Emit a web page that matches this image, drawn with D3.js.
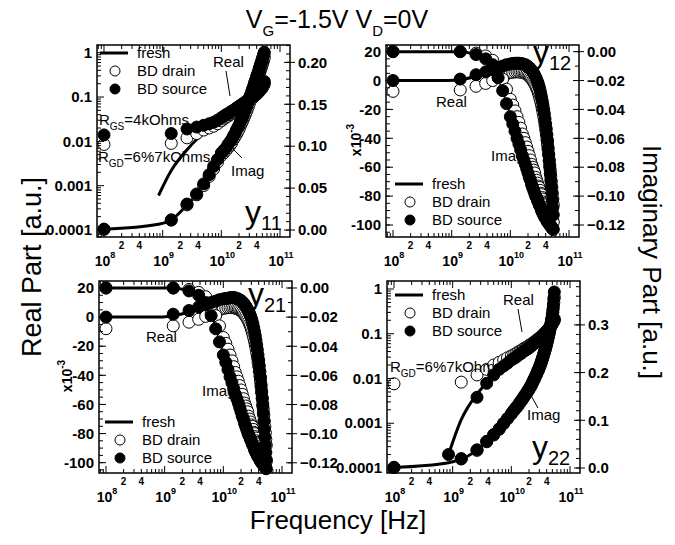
<!DOCTYPE html>
<html>
<head>
<meta charset="utf-8">
<script src="https://cdn.jsdelivr.net/npm/d3@7"></script>
<style>
  body { margin: 0; background: #fff; }
  svg { display: block; }
  text { font-family: "Liberation Sans", Arial, sans-serif; fill: #000; }
</style>
</head>
<body>
<svg id="vis" width="675" height="545"></svg>
<script>
// frequency points, GHz
const freqFresh = [0.1, 0.85, 1.4, 2.6, 3.8, 5.0, 6.2, 7.4, 8.6, 10, 12.2, 14.4, 16.6, 18.8, 21, 23.2, 25.4, 27.6, 29.8, 32, 34.2, 36.4, 38.6, 40.8, 43, 45.2, 47.4, 49.6, 51.8, 54];
const freqBD = [0.1, 0.85, 1.4, 2.6, 3.8, 5.0, 6.2, 7.4, 8.6,
    10, 11, 12, 13, 14, 15, 16, 17, 18, 19, 20, 21, 22, 23, 24, 25, 26, 27, 28, 29, 30, 31, 32,
    33, 34, 35, 36, 37, 38, 39, 40, 41, 42, 43, 44, 45, 46, 47, 48, 49, 50, 51, 52, 53, 54];

// y11
const y11RealFresh  = [null, 0.0006, 0.0022, 0.0065, 0.011, 0.015, 0.018, 0.021, 0.024, 0.028, 0.034, 0.040, 0.046, 0.052, 0.058, 0.064, 0.070, 0.076, 0.082, 0.089, 0.096, 0.103, 0.111, 0.119, 0.128, 0.138, 0.149, 0.161, 0.176, 0.195];
const y11ImagFresh  = [0.001, 0.007, 0.012, 0.030, 0.042, 0.054, 0.065, 0.075, 0.083, 0.091, 0.098, 0.105, 0.112, 0.120, 0.127, 0.134, 0.141, 0.147, 0.154, 0.160, 0.166, 0.171, 0.177, 0.182, 0.187, 0.192, 0.197, 0.201, 0.206, 0.210];
const y11RealDrain  = [0.0085, null, 0.0090, 0.012, 0.015, 0.018, 0.020, 0.022, 0.025,
    0.029, 0.032, 0.035, 0.037, 0.040, 0.043, 0.045, 0.048, 0.051, 0.054, 0.056, 0.059, 0.062, 0.065, 0.067, 0.070, 0.073, 0.076, 0.079, 0.082, 0.085, 0.088, 0.090,
    0.093, 0.096, 0.099, 0.103, 0.106, 0.109, 0.113, 0.116, 0.120, 0.124, 0.128, 0.132, 0.137, 0.142, 0.147, 0.152, 0.158, 0.164, 0.171, 0.179, 0.188, 0.198];
const y11RealSource = [0.014, null, 0.015, 0.019, 0.021, 0.023, 0.025, 0.027, 0.030,
    0.034, 0.037, 0.040, 0.042, 0.045, 0.048, 0.050, 0.053, 0.056, 0.059, 0.061, 0.064, 0.067, 0.070, 0.072, 0.075, 0.078, 0.081, 0.084, 0.087, 0.090, 0.093, 0.096,
    0.099, 0.102, 0.106, 0.110, 0.113, 0.117, 0.121, 0.125, 0.129, 0.134, 0.138, 0.143, 0.148, 0.154, 0.159, 0.165, 0.171, 0.179, 0.188, 0.198, 0.210, 0.225];
const y11ImagDrain  = [0.001, null, 0.012, 0.030, 0.042, 0.053, 0.064, 0.073, 0.081,
    0.089, 0.092, 0.095, 0.098, 0.101, 0.104, 0.108, 0.111, 0.114, 0.117, 0.120, 0.124, 0.127, 0.130, 0.133, 0.136, 0.139, 0.142, 0.145, 0.148, 0.151, 0.154, 0.156,
    0.159, 0.162, 0.164, 0.167, 0.170, 0.172, 0.174, 0.177, 0.179, 0.181, 0.183, 0.186, 0.188, 0.190, 0.192, 0.194, 0.196, 0.198, 0.200, 0.202, 0.204, 0.206];
const y11ImagSource = [0.001, null, 0.012, 0.031, 0.043, 0.055, 0.066, 0.076, 0.084,
    0.092, 0.095, 0.098, 0.102, 0.105, 0.108, 0.112, 0.115, 0.119, 0.122, 0.125, 0.129, 0.132, 0.135, 0.139, 0.142, 0.145, 0.148, 0.151, 0.154, 0.157, 0.160, 0.162,
    0.165, 0.168, 0.170, 0.173, 0.176, 0.178, 0.180, 0.183, 0.185, 0.187, 0.189, 0.192, 0.194, 0.196, 0.198, 0.200, 0.202, 0.204, 0.206, 0.208, 0.210, 0.212];

// y12 (real in 1e-3)
const y12RealFresh  = [0, 0, 0.5, 3, 5, 7, 8.5, 9.5, 10.5, 11, 11.5, 11.5, 11, 10, 8.5, 6.5, 4, 1, -2.5, -7, -12.5, -18.5, -25.5, -33.5, -41.5, -52, -62, -72, -82, -92];
const y12ImagFresh  = [0, 0, 0, -0.002, -0.004, -0.008, -0.016, -0.025, -0.034, -0.043, -0.054, -0.064, -0.072, -0.079, -0.085, -0.090, -0.095, -0.099, -0.102, -0.105, -0.108, -0.110, -0.112, -0.114, -0.116, -0.117, -0.118, -0.119, -0.120, -0.121];
const y12RealDrain  = [-7.5, null, -6.5, -4, -2, 0, 2, 3.5, 4.5,
    5.5, 5.8, 6, 6, 6, 5.8, 5.6, 5.3, 4.9, 4.3, 3.7, 3, 2.1, 1.2, 0, -1, -2.3, -3.6, -5.1, -6.7, -8.4, -10.4, -12.5,
    -14.7, -17, -19.5, -22, -24.8, -27.7, -30.7, -34, -37.3, -40.7, -44, -47.7, -51.3, -55, -58.5, -62.3, -66.2, -70, -74, -78, -82, -86];
const y12RealSource = [0, null, 1, 4, 6, 7.5, 9, 10, 11,
    11.5, 11.8, 12, 12, 12, 11.8, 11.6, 11.3, 10.9, 10.4, 9.7, 9, 8.1, 7.2, 6.1, 5, 3.7, 2.3, 0.9, -0.7, -2.4, -4.4, -6.5,
    -9, -11.5, -14.2, -17, -20, -23, -26.5, -30, -33.5, -37.5, -41.5, -46.5, -51, -55.5, -60, -64.5, -69, -73.5, -78, -83, -88, -93];
const y12ImagDrain  = [0, null, 0, -0.001, -0.003, -0.006, -0.012, -0.019, -0.026,
    -0.033, -0.037, -0.041, -0.045, -0.049, -0.053, -0.057, -0.060, -0.063, -0.066, -0.069, -0.072, -0.075, -0.078, -0.080, -0.082, -0.084, -0.087, -0.089, -0.091, -0.093, -0.094, -0.096,
    -0.098, -0.099, -0.101, -0.102, -0.104, -0.105, -0.106, -0.108, -0.109, -0.110, -0.111, -0.112, -0.113, -0.114, -0.115, -0.115, -0.116, -0.116, -0.117, -0.117, -0.118, -0.118];
const y12ImagSource = [0, null, 0, -0.002, -0.005, -0.009, -0.018, -0.027, -0.036,
    -0.045, -0.050, -0.055, -0.060, -0.064, -0.068, -0.072, -0.075, -0.078, -0.081, -0.084, -0.087, -0.089, -0.092, -0.094, -0.096, -0.098, -0.100, -0.101, -0.103, -0.104, -0.106, -0.107,
    -0.108, -0.110, -0.111, -0.112, -0.113, -0.114, -0.115, -0.115, -0.116, -0.117, -0.118, -0.118, -0.119, -0.119, -0.120, -0.120, -0.121, -0.121, -0.122, -0.122, -0.123, -0.123];

// y21 (real in 1e-3)
const y21RealFresh  = [0, 0, 1, 3.5, 6, 7.5, 9, 10, 11, 11.5, 12, 12.5, 12, 11, 9.5, 7.5, 5, 2, -1.5, -6, -11.5, -18, -25.5, -33.5, -42, -52.5, -63, -74, -85.5, -97];
const y21ImagFresh  = [0, 0, 0, -0.002, -0.004, -0.009, -0.017, -0.026, -0.035, -0.044, -0.055, -0.065, -0.073, -0.080, -0.086, -0.091, -0.096, -0.100, -0.103, -0.106, -0.109, -0.111, -0.113, -0.115, -0.117, -0.118, -0.119, -0.120, -0.121, -0.122];
const y21RealDrain  = [-8, null, -6, -3.5, -1.5, 0.5, 2.5, 4, 5,
    6, 6.3, 6.5, 6.5, 6.5, 6.4, 6.2, 5.8, 5.4, 4.9, 4.2, 3.5, 2.6, 1.7, 0.6, -0.5, -1.8, -3.2, -4.6, -6.2, -8, -10, -12,
    -14.2, -16.5, -19, -21.5, -24.5, -27.5, -30.7, -33.5, -37, -40.5, -44, -48, -52, -55.5, -59.5, -63.5, -67.5, -71.5, -75.5, -79.5, -84, -88];
const y21RealSource = [0, null, 2, 4.5, 7, 8.5, 10, 11, 12,
    12.5, 12.8, 13, 13.3, 13.5, 13.4, 13.2, 12.8, 12.4, 11.9, 11.3, 10.5, 9.6, 8.7, 7.6, 6.5, 5.2, 3.8, 2.4, 0.8, -0.9, -2.9, -5,
    -7.5, -10, -12.8, -15.8, -19, -22.4, -26, -29.5, -33.5, -37.5, -41.5, -46.5, -51, -56, -61, -66, -71.5, -77, -82.5, -88, -93, -98];
const y21ImagDrain  = [0, null, 0, -0.001, -0.003, -0.006, -0.012, -0.019, -0.026,
    -0.034, -0.038, -0.042, -0.046, -0.050, -0.054, -0.058, -0.061, -0.064, -0.067, -0.070, -0.073, -0.076, -0.079, -0.081, -0.083, -0.085, -0.088, -0.090, -0.092, -0.094, -0.095, -0.097,
    -0.099, -0.100, -0.102, -0.103, -0.105, -0.106, -0.107, -0.109, -0.110, -0.111, -0.112, -0.113, -0.114, -0.115, -0.116, -0.116, -0.117, -0.117, -0.118, -0.118, -0.119, -0.119];
const y21ImagSource = [0, null, 0, -0.002, -0.005, -0.010, -0.019, -0.028, -0.037,
    -0.046, -0.051, -0.056, -0.061, -0.065, -0.069, -0.073, -0.076, -0.079, -0.082, -0.085, -0.088, -0.090, -0.093, -0.095, -0.097, -0.099, -0.101, -0.102, -0.104, -0.105, -0.107, -0.108,
    -0.109, -0.111, -0.112, -0.113, -0.114, -0.115, -0.116, -0.116, -0.117, -0.118, -0.119, -0.119, -0.120, -0.120, -0.121, -0.121, -0.122, -0.122, -0.123, -0.123, -0.124, -0.124];

// y22
const y22RealFresh  = [null, 0.0002, 0.0012, 0.0045, 0.008, 0.012, 0.015, 0.018, 0.021, 0.024, 0.029, 0.034, 0.039, 0.044, 0.049, 0.055, 0.061, 0.067, 0.073, 0.080, 0.087, 0.095, 0.104, 0.114, 0.125, 0.137, 0.151, 0.166, 0.183, 0.202];
const y22ImagFresh  = [0.001, 0.011, 0.019, 0.037, 0.055, 0.069, 0.081, 0.093, 0.103, 0.113, 0.127, 0.139, 0.150, 0.160, 0.170, 0.180, 0.190, 0.200, 0.210, 0.220, 0.231, 0.242, 0.253, 0.265, 0.277, 0.289, 0.302, 0.316, 0.333, 0.355];
const y22RealDrain  = [0.0076, null, 0.0083, 0.012, 0.016, 0.020, 0.023, 0.026, 0.029,
    0.032, 0.034, 0.036, 0.039, 0.041, 0.043, 0.046, 0.048, 0.050, 0.052, 0.055, 0.057, 0.059, 0.062, 0.064, 0.067, 0.069, 0.072, 0.075, 0.078, 0.081, 0.083, 0.086,
    0.089, 0.092, 0.096, 0.099, 0.102, 0.106, 0.110, 0.114, 0.118, 0.122, 0.127, 0.132, 0.137, 0.142, 0.148, 0.154, 0.161, 0.168, 0.175, 0.183, 0.191, 0.200];
const y22RealSource = [null, 0.0002, null, 0.0038, 0.0078, 0.012, 0.016, 0.019, 0.022,
    0.026, 0.028, 0.030, 0.033, 0.035, 0.037, 0.040, 0.042, 0.044, 0.046, 0.048, 0.051, 0.054, 0.056, 0.059, 0.062, 0.065, 0.067, 0.070, 0.073, 0.076, 0.079, 0.083,
    0.086, 0.089, 0.093, 0.097, 0.100, 0.104, 0.109, 0.113, 0.118, 0.124, 0.128, 0.134, 0.139, 0.145, 0.151, 0.158, 0.165, 0.173, 0.182, 0.192, 0.203, 0.215];
const y22ImagDrain  = [0.001, null, 0.019, 0.037, 0.055, 0.069, 0.081, 0.093, 0.103,
    0.113, 0.120, 0.125, 0.130, 0.136, 0.141, 0.146, 0.151, 0.155, 0.160, 0.164, 0.169, 0.173, 0.178, 0.183, 0.187, 0.192, 0.196, 0.201, 0.205, 0.210, 0.214, 0.219,
    0.224, 0.229, 0.234, 0.239, 0.244, 0.249, 0.254, 0.259, 0.265, 0.270, 0.276, 0.281, 0.287, 0.293, 0.299, 0.305, 0.311, 0.318, 0.326, 0.336, 0.347, 0.358];
const y22ImagSource = [0.0015, null, 0.0195, 0.038, 0.056, 0.070, 0.082, 0.094, 0.104,
    0.114, 0.121, 0.127, 0.132, 0.138, 0.143, 0.148, 0.153, 0.157, 0.162, 0.166, 0.171, 0.175, 0.180, 0.185, 0.189, 0.194, 0.198, 0.203, 0.207, 0.212, 0.216, 0.221,
    0.226, 0.231, 0.236, 0.241, 0.246, 0.251, 0.256, 0.261, 0.267, 0.272, 0.278, 0.283, 0.289, 0.295, 0.301, 0.307, 0.314, 0.322, 0.331, 0.342, 0.355, 0.369];

const legendNames = ['fresh', 'BD drain', 'BD source'];
const logLabels = ['0.0001', '0.001', '0.01', '0.1', '1'];

const W = 193, H = 192;
const xDomain = [7.6e7, 1.48e11];
const svg = d3.select('#vis');

function series(freqs, vals) {
    return vals.map((v, i) => ({ f: freqs[i] * 1e9, v: v }));
}

function richText(sel, parts, size, subSize) {
    // parts: [text, isSub]
    let prevSub = false;
    parts.forEach(([t, sub]) => {
        let dy = 0;
        if (sub && !prevSub) dy = size * 0.3;
        if (!sub && prevSub) dy = -size * 0.3;
        sel.append('tspan').attr('dy', dy).attr('font-size', sub ? subSize : size).text(t);
        prevSub = sub;
    });
    return sel;
}

const panels = [
    { name: '11', x: 97, y: 45, leftLog: true, leftDomain: [6.95e-5, 1.493], rightDomain: [-0.0083, 0.2207],
      rightTicks: d3.range(0, 0.201, 0.05), rightMinor: d3.range(0, 0.221, 0.01), rightFmt: d3.format('.2f'),
      real: [y11RealFresh, y11RealDrain, y11RealSource], imag: [y11ImagFresh, y11ImagDrain, y11ImagSource],
      legend: [100, 53], label: [245, 223],
      notes: [
          { x: 213, y: 67, parts: [['Real', false]] },
          { x: 231, y: 176, parts: [['Imag', false]] },
          { x: 99, y: 125, parts: [['R', false], ['GS', true], ['=4kOhms', false]] },
          { x: 98, y: 162, parts: [['R', false], ['GD', true], ['=6%7kOhms', false]] }
      ],
      pointers: [[226, 71, 230, 96], [242, 158, 230, 146]] },
    { name: '12', x: 386, y: 45, leftLog: false, leftDomain: [-108.3, 24.6], rightDomain: [-0.1283, 0.0046],
      leftTicks: d3.range(-100, 21, 20), leftMinor: d3.range(-105, 21, 5),
      rightTicks: d3.range(-0.12, 0.001, 0.02), rightMinor: d3.range(-0.12, 0.001, 0.01), rightFmt: d3.format('.2f'),
      real: [y12RealFresh, y12RealDrain, y12RealSource], imag: [y12ImagFresh, y12ImagDrain, y12ImagSource],
      legend: [395, 184], label: [533, 63], scaleNote: [361, 140],
      notes: [
          { x: 436, y: 107, parts: [['Real', false]] },
          { x: 491, y: 161, parts: [['Imag', false]] }
      ],
      pointers: [] },
    { name: '21', x: 99, y: 281, leftLog: false, leftDomain: [-107.1, 24.8], rightDomain: [-0.127, 0.0048],
      leftTicks: d3.range(-100, 21, 20), leftMinor: d3.range(-105, 21, 5),
      rightTicks: d3.range(-0.12, 0.001, 0.02), rightMinor: d3.range(-0.12, 0.001, 0.01), rightFmt: d3.format('.2f'),
      real: [y21RealFresh, y21RealDrain, y21RealSource], imag: [y21ImagFresh, y21ImagDrain, y21ImagSource],
      legend: [105, 422], label: [248, 305], scaleNote: [72, 376],
      notes: [
          { x: 146, y: 342, parts: [['Real', false]] },
          { x: 202, y: 396, parts: [['Imag', false]] }
      ],
      pointers: [] },
    { name: '22', x: 387, y: 281, leftLog: true, leftDomain: [7.73e-5, 1.51], rightDomain: [-0.0105, 0.392],
      rightTicks: d3.range(0, 0.301, 0.1), rightMinor: d3.range(0, 0.391, 0.02), rightFmt: d3.format('.1f'),
      real: [y22RealFresh, y22RealDrain, y22RealSource], imag: [y22ImagFresh, y22ImagDrain, y22ImagSource],
      legend: [395, 295], label: [532, 458],
      notes: [
          { x: 503, y: 305, parts: [['Real', false]] },
          { x: 527, y: 420, parts: [['Imag', false]] },
          { x: 390, y: 372, parts: [['R', false], ['GD', true], ['=6%7kOhm', false]] }
      ],
      pointers: [[518, 309, 522, 332], [538, 408, 529, 392]] }
];

function drawPanel(p) {
    const g = svg.append('g').attr('transform', 'translate(' + p.x + ',' + p.y + ')');
    const x = d3.scaleLog().domain(xDomain).range([0, W]);
    const yL = (p.leftLog ? d3.scaleLog() : d3.scaleLinear()).domain(p.leftDomain).range([H, 0]);
    const yR = d3.scaleLinear().domain(p.rightDomain).range([H, 0]);

    // annotations under the data
    p.notes.forEach(n => {
        richText(svg.append('text').attr('x', n.x).attr('y', n.y), n.parts, 15, 10);
    });
    p.pointers.forEach(l => {
        svg.append('line').attr('x1', l[0]).attr('y1', l[1]).attr('x2', l[2]).attr('y2', l[3])
            .attr('stroke', '#000').attr('stroke-width', 1);
    });

    const sets = [
        { vals: p.real, y: yL },
        { vals: p.imag, y: yR }
    ];

    // fresh lines
    sets.forEach(s => {
        const line = d3.line()
            .defined(d => d.v != null)
            .x(d => x(d.f))
            .y(d => s.y(d.v))
            .curve(d3.curveMonotoneX);
        g.append('path')
            .datum(series(freqFresh, s.vals[0]))
            .attr('d', line)
            .attr('fill', 'none')
            .attr('stroke', '#000')
            .attr('stroke-width', 3);
    });

    // BD drain (open) then BD source (filled)
    [1, 2].forEach(k => {
        sets.forEach(s => {
            g.append('g').selectAll('circle')
                .data(series(freqBD, s.vals[k]).filter(d => d.v != null))
                .enter()
                .append('circle')
                .attr('cx', d => x(d.f))
                .attr('cy', d => s.y(d.v))
                .attr('r', 6)
                .attr('fill', k === 1 ? '#fff' : '#000')
                .attr('stroke', '#000')
                .attr('stroke-width', 1);
        });
    });

    // frame
    g.append('rect').attr('width', W).attr('height', H)
        .attr('fill', 'none').attr('stroke', '#000').attr('stroke-width', 1.5);

    // x ticks, bottom and top
    const xMajor = [1e8, 1e9, 1e10, 1e11];
    const xMinor = [];
    [1e7, 1e8, 1e9, 1e10, 1e11].forEach(dec => {
        for (let m = 2; m <= 9; m++) {
            const v = dec * m;
            if (v > xDomain[0] && v < xDomain[1]) xMinor.push(v);
        }
    });
    const tk = g.append('g').attr('stroke', '#000').attr('stroke-width', 1);
    xMajor.forEach(v => {
        tk.append('line').attr('x1', x(v)).attr('x2', x(v)).attr('y1', H).attr('y2', H - 7);
        tk.append('line').attr('x1', x(v)).attr('x2', x(v)).attr('y1', 0).attr('y2', 7);
    });
    xMinor.forEach(v => {
        tk.append('line').attr('x1', x(v)).attr('x2', x(v)).attr('y1', H).attr('y2', H - 4);
        tk.append('line').attr('x1', x(v)).attr('x2', x(v)).attr('y1', 0).attr('y2', 4);
    });
    xMajor.forEach(v => {
        const t = g.append('text').attr('x', x(v) + 1).attr('y', H + 29)
            .attr('text-anchor', 'middle').attr('font-weight', 'bold').attr('font-size', 14);
        t.append('tspan').text('10');
        t.append('tspan').attr('dy', -8).attr('font-size', 9).text(Math.round(Math.log10(v)));
    });
    [1e8, 1e9, 1e10].forEach(dec => {
        [2, 4].forEach(m => {
            g.append('text').attr('x', x(dec * m)).attr('y', H + 12)
                .attr('text-anchor', 'middle').attr('font-weight', 'bold').attr('font-size', 10)
                .text(m);
        });
    });

    // left axis
    if (p.leftLog) {
        const decs = [1e-4, 1e-3, 1e-2, 1e-1, 1];
        decs.forEach((v, i) => {
            tk.append('line').attr('x1', 0).attr('x2', 7).attr('y1', yL(v)).attr('y2', yL(v));
            g.append('text').attr('x', -5).attr('y', yL(v)).attr('dy', '0.35em')
                .attr('text-anchor', 'end').attr('font-weight', 'bold').attr('font-size', 15)
                .text(logLabels[i]);
        });
        [1e-5, 1e-4, 1e-3, 1e-2, 1e-1, 1].forEach(dec => {
            for (let m = 2; m <= 9; m++) {
                const v = dec * m;
                if (v > p.leftDomain[0] && v < p.leftDomain[1]) {
                    tk.append('line').attr('x1', 0).attr('x2', 4).attr('y1', yL(v)).attr('y2', yL(v));
                }
            }
        });
    } else {
        p.leftMinor.forEach(v => {
            tk.append('line').attr('x1', 0).attr('x2', 4).attr('y1', yL(v)).attr('y2', yL(v));
        });
        p.leftTicks.forEach(v => {
            tk.append('line').attr('x1', 0).attr('x2', 7).attr('y1', yL(v)).attr('y2', yL(v));
            g.append('text').attr('x', -5).attr('y', yL(v)).attr('dy', '0.35em')
                .attr('text-anchor', 'end').attr('font-weight', 'bold').attr('font-size', 15)
                .text(Math.round(v));
        });
    }

    // right axis
    p.rightMinor.forEach(v => {
        tk.append('line').attr('x1', W).attr('x2', W - 4).attr('y1', yR(v)).attr('y2', yR(v));
    });
    p.rightTicks.forEach(v => {
        tk.append('line').attr('x1', W - 6).attr('x2', W + 5).attr('y1', yR(v)).attr('y2', yR(v));
        g.append('text').attr('x', W + 8).attr('y', yR(v)).attr('dy', '0.35em')
            .attr('font-weight', 'bold').attr('font-size', 15)
            .text(p.rightFmt(Math.abs(v) < 1e-9 ? 0 : v));
    });

    // x10^-3 note
    if (p.scaleNote) {
        const t = svg.append('text')
            .attr('transform', 'translate(' + p.scaleNote[0] + ',' + p.scaleNote[1] + ') rotate(-90)')
            .attr('text-anchor', 'middle').attr('font-weight', 'bold').attr('font-size', 14);
        t.append('tspan').text('x10');
        t.append('tspan').attr('dy', -7).attr('font-size', 10).text('-3');
    }

    // legend
    const [lx, ly] = p.legend;
    const lg = svg.append('g');
    lg.append('line').attr('x1', lx).attr('x2', lx + 28).attr('y1', ly).attr('y2', ly)
        .attr('stroke', '#000').attr('stroke-width', 3);
    lg.append('circle').attr('cx', lx + 15).attr('cy', ly + 18).attr('r', 5)
        .attr('fill', '#fff').attr('stroke', '#000');
    lg.append('circle').attr('cx', lx + 15).attr('cy', ly + 36).attr('r', 5)
        .attr('fill', '#000').attr('stroke', '#000');
    legendNames.forEach((nm, i) => {
        lg.append('text').attr('x', lx + 37).attr('y', ly + 5 + i * 18).attr('font-size', 15).text(nm);
    });

    // panel name
    const lb = svg.append('text').attr('x', p.label[0]).attr('y', p.label[1]).attr('font-size', 32);
    lb.append('tspan').text('y');
    lb.append('tspan').attr('dy', 7).attr('font-size', 20).text(p.name);
}

panels.forEach(drawPanel);

// title
richText(svg.append('text').attr('x', 337).attr('y', 28).attr('text-anchor', 'middle'),
    [['V', false], ['G', true], ['=-1.5V V', false], ['D', true], ['=0V', false]], 25, 15);

svg.append('text').attr('transform', 'translate(41,267) rotate(-90)')
    .attr('text-anchor', 'middle').attr('font-size', 27).text('Real Part [a.u.]');
svg.append('text').attr('transform', 'translate(643,262) rotate(90)')
    .attr('text-anchor', 'middle').attr('font-size', 26).text('Imaginary Part [a.u.]');
svg.append('text').attr('x', 338).attr('y', 529)
    .attr('text-anchor', 'middle').attr('font-size', 26).text('Frequency [Hz]');
</script>
</body>
</html>
